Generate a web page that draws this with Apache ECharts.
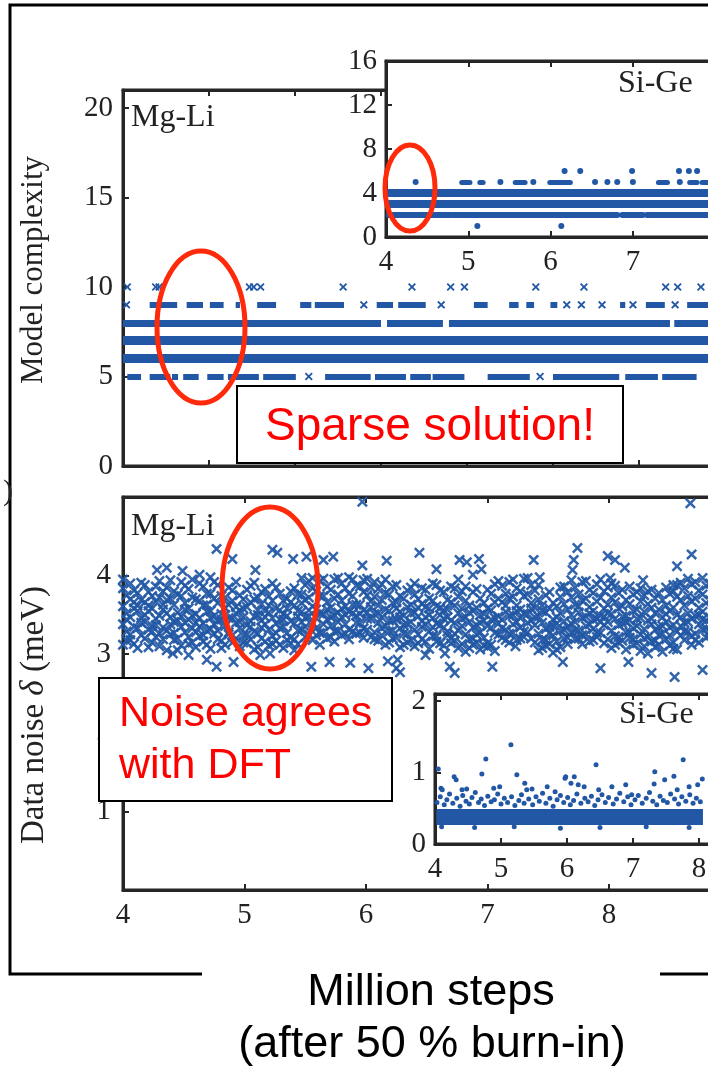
<!DOCTYPE html>
<html style="height: 100%">
<head>
<meta charset="utf-8">
<title>Model complexity and data noise traces</title>
<script src="https://cdn.jsdelivr.net/npm/echarts@6/dist/echarts.min.js"></script>
</head>
<body style="height: 100%; margin: 0; background: #fff">
<div id="target" style="width: 708px; height: 1069px"></div>
<script>
// ---- data (x in million steps) ----

// Mg-Li model complexity: runs [xStart, xEnd] of consecutive samples per level
const mgliLevel5Runs = [[4.05,4.21],[4.31,4.55],[4.57,4.64],[4.70,4.88],[4.98,5.17],[5.22,5.58],[5.63,6.01],[6.35,6.88],[6.93,7.29],[7.34,7.58],[7.60,7.97],[8.24,8.73],[9.00,9.77],[9.84,10.22],[10.27,10.67]];
const mgliLevel6Runs = [[4.0,10.9]];
const mgliLevel7Runs = [[4.0,10.9]];
const mgliLevel8Runs = [[4.0,7.0],[7.07,7.72],[7.79,10.36],[10.41,10.9]];
const mgliLevel9Runs = [[4.31,4.63],[4.74,4.93],[5.01,5.17],[5.31,5.36],[5.56,5.78],[6.06,6.19],[6.23,6.57],[6.95,7.14],[7.20,7.52],[8.08,8.24],[8.49,8.60],[8.69,8.78],[8.97,9.05],[9.78,9.84],[10.08,10.30],[10.56,10.85]];
// isolated samples
const mgliLevel5Single = [6.16, 8.85];
const mgliLevel9Single = [4.04, 6.80, 7.70, 9.16, 9.33, 9.57, 9.93, 10.42];
const mgliLevel10Single = [4.05, 4.38, 4.42, 5.47, 5.52, 5.60, 6.56, 7.36, 7.81, 7.97, 8.80, 9.36, 10.31, 10.45, 10.72];

// Si-Ge model complexity (inset)
const sigeLevel2Runs = [[4.03,4.78],[4.81,6.81],[6.87,7.12],[7.17,8.3]];
const sigeLevel3Runs = [[4.03,8.3]];
const sigeLevel4Runs = [[4.03,8.3]];
const sigeLevel5Runs = [[4.92,5.02],[5.14,5.18],[5.57,5.69],[5.99,6.24],[7.31,7.42],[7.69,7.78],[7.84,7.95]];
const sigeLevel1Single = [5.11, 6.13];
const sigeLevel5Single = [4.36, 5.39, 5.79, 6.54, 6.69, 6.81, 7.00, 7.57];
const sigeLevel6Single = [6.17, 6.36, 6.99, 7.56, 7.68, 7.78];

// Mg-Li data noise (meV): each column is [x, y1, y2, ...]
const mgliNoiseColumns = [
  [4.00,3.12,3.38,3.61,3.84,3.95],[4.06,3.25,3.47,3.70,3.90,3.18],[4.12,3.08,3.33,3.55,3.78,3.62],
  [4.18,3.20,3.41,3.66,3.88,3.50],[4.24,3.15,3.36,3.58,3.74,3.29],[4.30,3.26,3.49,3.72,3.93,3.10],
  [4.36,3.05,3.30,3.52,3.69,3.85],[4.42,3.18,3.41,3.63,3.80,3.27],[4.48,3.11,3.35,3.48,3.74,3.92],
  [4.54,3.22,3.44,3.58,3.83,3.13],[4.60,3.09,3.28,3.51,3.70,3.40],[4.66,3.16,3.39,3.62,3.86,3.24],
  [4.72,3.07,3.32,3.55,3.77,3.46],[4.78,3.19,3.42,3.65,3.88,3.30],[4.84,3.12,3.36,3.50,3.72,3.59],
  [4.90,3.24,3.45,3.68,3.81,3.15],[4.96,3.10,3.33,3.56,3.75,3.41],[5.02,3.14,3.37,3.60,3.82,3.25],
  [5.08,3.06,3.29,3.48,3.70,3.91],[5.14,3.20,3.43,3.64,3.79,3.34],[5.20,3.11,3.31,3.53,3.74,3.62],
  [5.26,3.17,3.39,3.58,3.85,3.27],[5.32,3.08,3.35,3.51,3.68,3.44],[5.38,3.21,3.42,3.66,3.80,3.14],
  [5.44,3.13,3.30,3.55,3.76,3.48],[5.50,3.22,3.46,3.69,3.88,3.35],[5.56,3.18,3.40,3.61,3.84,3.97],
  [5.62,3.27,3.52,3.74,3.93,3.12],[5.68,3.20,3.44,3.66,3.86,3.57],[5.74,3.29,3.50,3.71,3.95,3.16],
  [5.80,3.24,3.47,3.68,3.90,3.58],[5.86,3.31,3.54,3.77,3.98,3.19],[5.92,3.26,3.49,3.63,3.87,3.40],
  [5.98,3.33,3.56,3.79,3.94,3.21],[6.04,3.22,3.45,3.67,3.85,3.60],[6.10,3.17,3.40,3.62,3.83,3.52],
  [6.16,3.12,3.36,3.57,3.78,3.95],[6.22,3.20,3.43,3.65,3.86,3.30],[6.28,3.09,3.33,3.54,3.74,3.47],
  [6.34,3.15,3.38,3.60,3.81,3.26],[6.40,3.10,3.31,3.53,3.76,3.90],[6.46,3.19,3.42,3.64,3.84,3.35],
  [6.52,3.07,3.29,3.50,3.71,3.58],[6.58,3.16,3.39,3.61,3.88,3.23],[6.64,3.11,3.34,3.56,3.79,3.45],
  [6.70,3.20,3.43,3.66,3.86,3.14],[6.76,3.08,3.30,3.52,3.73,3.95],[6.82,3.03,3.25,3.47,3.68,3.86],
  [6.88,3.12,3.34,3.55,3.79,3.20],[6.94,3.06,3.28,3.50,3.71,3.40],[7.00,3.14,3.36,3.58,3.82,3.09],
  [7.06,3.04,3.27,3.46,3.66,3.89],[7.12,3.21,3.44,3.66,3.87,3.33],[7.18,3.26,3.49,3.71,3.92,3.15],
  [7.24,3.18,3.41,3.62,3.84,3.55],[7.30,3.29,3.52,3.74,3.96,3.22],[7.36,3.20,3.43,3.65,3.88,3.58],
  [7.42,3.05,3.26,3.48,3.70,3.88],[7.48,3.11,3.32,3.53,3.75,3.18],[7.54,3.02,3.24,3.44,3.65,3.36],
  [7.60,3.09,3.30,3.52,3.73,3.85],[7.66,3.13,3.35,3.57,3.79,3.21],[7.72,3.19,3.41,3.63,3.85,3.30],
  [7.78,3.24,3.46,3.68,3.92,3.13],[7.84,3.16,3.38,3.60,3.82,3.52],[7.90,3.22,3.45,3.67,3.89,3.27],
  [7.96,3.14,3.37,3.58,3.80,3.48],[8.02,3.08,3.30,3.51,3.72,3.90],[8.08,3.15,3.37,3.58,3.78,3.22],
  [8.14,3.06,3.28,3.49,3.69,3.41],[8.20,3.12,3.33,3.55,3.76,3.19],[8.26,3.04,3.25,3.46,3.67,3.84],
  [8.32,3.01,3.22,3.43,3.64,3.80],[8.38,3.09,3.31,3.52,3.71,3.17],[8.44,3.03,3.26,3.47,3.69,3.36],
  [8.50,3.11,3.34,3.55,3.77,3.24],[8.56,3.06,3.29,3.50,3.73,3.88],[8.62,3.18,3.40,3.62,3.84,3.29],
  [8.68,3.23,3.45,3.67,3.89,3.12],[8.74,3.15,3.38,3.59,3.81,3.50],[8.80,3.21,3.43,3.65,3.87,3.33],
  [8.86,3.17,3.39,3.61,3.83,3.46]
];
const mgliNoiseColumnsB = [
  [4.03,3.29,3.52,3.75,3.44,3.17],[4.09,3.35,3.58,3.81,3.13,3.66],[4.15,3.24,3.46,3.69,3.91,3.40],
  [4.21,3.31,3.55,3.79,3.09,3.62],[4.27,3.22,3.45,3.67,3.86,3.37],[4.33,3.34,3.57,3.80,3.19,3.63],
  [4.39,3.25,3.47,3.71,3.94,3.38],[4.45,3.20,3.53,3.76,3.05,3.43],[4.51,3.28,3.40,3.65,3.87,3.57],
  [4.57,3.15,3.49,3.72,3.33,3.95],[4.63,3.23,3.46,3.68,3.90,3.35],[4.69,3.30,3.54,3.77,3.12,3.63],
  [4.75,3.26,3.49,3.71,3.92,3.38],[4.81,3.17,3.51,3.74,3.08,3.44],[4.87,3.28,3.46,3.63,3.85,3.25],
  [4.93,3.20,3.40,3.60,3.92,3.52],[4.99,3.24,3.47,3.70,3.15,3.58],[5.05,3.19,3.42,3.66,3.87,3.35],
  [5.11,3.26,3.50,3.72,3.09,3.56],[5.17,3.16,3.38,3.55,3.83,3.47],[5.23,3.23,3.46,3.68,3.90,3.13],
  [5.29,3.12,3.33,3.56,3.77,3.44],[5.35,3.27,3.49,3.71,3.58,3.18],[5.41,3.19,3.39,3.62,3.84,3.05],
  [5.47,3.31,3.54,3.76,3.41,3.65],[5.53,3.25,3.48,3.72,3.93,3.56],[5.59,3.33,3.57,3.80,3.24,3.46],
  [5.65,3.28,3.51,3.74,3.96,3.38],[5.71,3.36,3.59,3.82,3.22,3.47],[5.77,3.30,3.53,3.76,3.97,3.41],
  [5.83,3.38,3.61,3.84,3.26,3.50],[5.89,3.29,3.52,3.74,3.95,3.63],[5.95,3.40,3.63,3.86,3.27,3.51],
  [6.01,3.31,3.53,3.75,3.96,3.45],[6.07,3.28,3.51,3.73,3.92,3.19],[6.13,3.24,3.47,3.69,3.89,3.33],
  [6.19,3.29,3.55,3.76,3.15,3.43],[6.25,3.21,3.44,3.66,3.88,3.58],[6.31,3.26,3.49,3.71,3.12,3.37],
  [6.37,3.18,3.41,3.63,3.85,3.52],[6.43,3.25,3.48,3.70,3.14,3.59],[6.49,3.16,3.38,3.60,3.82,3.47],
  [6.55,3.23,3.46,3.68,3.90,3.34],[6.61,3.14,3.37,3.59,3.81,3.50],[6.67,3.24,3.47,3.69,3.29,3.57],
  [6.73,3.17,3.40,3.62,3.84,3.26],[6.79,3.13,3.36,3.58,3.80,3.45],[6.85,3.19,3.41,3.62,3.08,3.53],
  [6.91,3.15,3.37,3.59,3.83,3.25],[6.97,3.21,3.43,3.65,3.11,3.51],[7.03,3.12,3.34,3.56,3.77,3.44],
  [7.09,3.25,3.48,3.71,3.93,3.39],[7.15,3.31,3.54,3.77,3.18,3.62],[7.21,3.27,3.50,3.73,3.95,3.38],
  [7.27,3.34,3.57,3.80,3.20,3.46],[7.33,3.28,3.51,3.76,3.97,3.40],[7.39,3.15,3.37,3.59,3.81,3.47],
  [7.45,3.18,3.40,3.62,3.08,3.55],[7.51,3.13,3.35,3.58,3.79,3.27],[7.57,3.16,3.39,3.61,3.06,3.47],
  [7.63,3.20,3.42,3.64,3.86,3.31],[7.69,3.27,3.50,3.72,3.94,3.39],[7.75,3.30,3.53,3.76,3.20,3.61],
  [7.81,3.25,3.48,3.71,3.93,3.36],[7.87,3.32,3.55,3.78,3.18,3.44],[7.93,3.27,3.49,3.72,3.95,3.41],
  [7.99,3.19,3.41,3.63,3.85,3.52],[8.05,3.23,3.45,3.66,3.87,3.12],[8.11,3.17,3.39,3.61,3.82,3.48],
  [8.17,3.21,3.43,3.64,3.86,3.28],[8.23,3.14,3.36,3.57,3.79,3.45],[8.29,3.10,3.32,3.54,3.75,3.20],
  [8.35,3.16,3.38,3.59,3.82,3.45],[8.41,3.12,3.35,3.57,3.78,3.24],[8.47,3.19,3.41,3.62,3.85,3.51],
  [8.53,3.15,3.37,3.59,3.80,3.07],[8.59,3.24,3.47,3.69,3.91,3.36],[8.65,3.29,3.52,3.74,3.96,3.41],
  [8.71,3.26,3.49,3.71,3.92,3.18],[8.77,3.31,3.54,3.76,3.97,3.44],[8.83,3.24,3.47,3.69,3.90,3.29]
];
const mgliNoiseOutliers = [
  [4.28,4.07],[4.36,4.10],[4.49,4.06],[4.63,4.01],[4.72,3.98],[4.77,4.34],[4.90,4.21],[5.09,4.07],
  [5.23,4.33],[5.27,4.29],[5.40,4.21],[5.47,3.97],[5.51,4.24],[5.65,4.20],[5.73,4.24],[5.97,4.13],
  [5.97,4.94],[6.17,4.19],[6.44,4.29],[6.58,4.08],[6.77,4.20],[6.83,4.17],[6.88,4.01],[6.93,4.21],
  [6.95,4.08],[7.38,4.20],[7.43,3.98],[7.70,4.07],[7.71,4.20],[7.74,4.35],[7.99,4.25],[8.01,3.97],
  [8.05,4.20],[8.13,4.10],[8.28,3.94],[8.53,3.88],[8.56,4.12],[8.67,4.92],[8.68,4.27],
  [4.41,3.01],[4.54,2.99],[4.69,2.93],[4.77,2.84],[4.91,2.90],[5.13,2.99],[5.21,3.01],[5.55,2.84],
  [5.70,2.90],[5.87,2.89],[6.02,2.82],[6.18,2.91],[6.25,2.82],[6.26,2.93],[6.28,2.77],[6.49,2.99],
  [6.65,3.01],[6.69,2.84],[6.73,2.76],[7.04,2.84],[7.23,3.10],[7.62,2.90],[7.93,2.82],[8.16,2.90],
  [8.35,2.76],[8.54,2.71],[8.77,2.80]
];

// Si-Ge data noise (inset): dense core [xStart, xEnd, y] and scattered samples
const sigeNoiseCore = [[4.02,8.06,0.385]];
const sigeNoisePoints = [
  [4.03,0.58],[4.08,0.66],[4.14,0.55],[4.18,0.62],[4.22,0.70],[4.27,0.57],[4.33,0.64],[4.38,0.53],
  [4.42,0.68],[4.47,0.60],[4.52,0.56],[4.56,0.65],[4.61,0.72],[4.66,0.58],[4.70,0.63],[4.75,0.54],
  [4.80,0.67],[4.85,0.59],[4.90,0.62],[4.95,0.70],[5.00,0.56],[5.05,0.64],[5.10,0.58],[5.16,0.66],
  [5.21,0.54],[5.27,0.61],[5.31,0.69],[5.35,0.57],[5.42,0.63],[5.48,0.55],[5.53,0.66],[5.58,0.60],
  [5.63,0.71],[5.68,0.57],[5.74,0.64],[5.79,0.53],[5.85,0.62],[5.90,0.68],[5.95,0.58],[6.01,0.65],
  [6.05,0.55],[6.10,0.61],[6.15,0.70],[6.21,0.57],[6.27,0.64],[6.32,0.59],[6.37,0.67],[6.42,0.54],
  [6.47,0.62],[6.53,0.69],[6.58,0.58],[6.63,0.65],[6.70,0.56],[6.75,0.63],[6.80,0.71],[6.86,0.59],
  [6.92,0.66],[6.97,0.55],[7.03,0.62],[7.08,0.68],[7.14,0.57],[7.20,0.64],[7.25,0.72],[7.30,0.60],
  [7.36,0.55],[7.41,0.67],[7.46,0.61],[7.52,0.58],[7.57,0.70],[7.63,0.63],[7.69,0.56],[7.74,0.66],
  [7.80,0.60],[7.86,0.69],[7.91,0.57],[7.96,0.64],[8.02,0.59],
  [4.10,0.24],[4.60,0.23],[5.20,0.24],[5.90,0.22],[6.50,0.23],[7.20,0.24],[7.85,0.23],
  [4.05,1.05],[4.09,0.78],[4.11,0.76],[4.29,0.94],[4.32,0.90],[4.41,0.76],[4.48,0.77],[4.71,0.98],
  [4.77,1.19],[4.89,0.78],[4.98,0.80],[5.15,1.39],[5.24,0.97],[5.36,0.85],[5.39,0.76],[5.47,0.77],
  [5.70,0.80],[5.82,0.73],[5.97,0.92],[5.98,0.94],[6.06,0.85],[6.11,0.94],[6.17,0.83],[6.26,0.80],
  [6.44,1.11],[6.48,0.76],[6.68,0.80],[6.89,0.83],[6.98,0.69],[7.32,0.84],[7.33,1.01],[7.48,0.90],
  [7.62,0.95],[7.67,0.76],[7.76,1.18],[7.85,0.80],[7.98,0.83],[8.05,0.91]
];

// ---- chart ----
const BLUE = '#2157a4';
const RED_RING = '#ff2a0a';
const INK = '#262626';
const SERIF = '"Liberation Serif", "DejaVu Serif", serif';
const SANS = '"Liberation Sans", Arial, sans-serif';
const X_SYMBOL = 'path://M0,1.6L1.6,0L5,3.4L8.4,0L10,1.6L6.6,5L10,8.4L8.4,10L5,6.6L1.6,10L0,8.4L3.4,5Z';

let chart = echarts.init(document.getElementById('target'));

let runs = (list, level, width) => list.map(r => ({
    coords: [[r[0], level], [r[1], level]],
    lineStyle: { width: width },
}));
let singles = (list, level) => list.map(x => [x, level]);

let mgliRunData = [].concat(
    runs(mgliLevel5Runs, 5, 6),
    runs(mgliLevel6Runs, 6, 9),
    runs(mgliLevel7Runs, 7, 9),
    runs(mgliLevel8Runs, 8, 7),
    runs(mgliLevel9Runs, 9, 6),
);
let mgliSingleData = [].concat(
    singles(mgliLevel5Single, 5),
    singles(mgliLevel9Single, 9),
    singles(mgliLevel10Single, 10),
);
let sigeRunData = [].concat(
    runs(sigeLevel2Runs, 2, 6),
    runs(sigeLevel3Runs, 3, 8),
    runs(sigeLevel4Runs, 4, 8),
    runs(sigeLevel5Runs, 5, 5),
);
let sigeSingleData = [].concat(
    singles(sigeLevel1Single, 1),
    singles(sigeLevel5Single, 5),
    singles(sigeLevel6Single, 6),
);
let mgliNoiseData = [];
mgliNoiseColumns.concat(mgliNoiseColumnsB).forEach(col => {
    col.slice(1).forEach(y => mgliNoiseData.push([col[0], y]));
});
mgliNoiseData = mgliNoiseData.concat(mgliNoiseOutliers);
let sigeCoreData = sigeNoiseCore.map(c => ({ coords: [[c[0], c[2]], [c[1], c[2]]] }));

// axis helpers (MATLAB style box, ticks inside)
let xAx = (grid, min, max, position, showLabel, z) => ({
    gridIndex: grid, type: 'value', min: min, max: max, interval: 1, position: position, z: z || 0,
    axisLine: { show: true, onZero: false, lineStyle: { color: INK, width: 3 } },
    axisTick: { show: true, inside: true, length: 6, lineStyle: { color: INK, width: 2 } },
    axisLabel: { show: showLabel, margin: 11, fontFamily: SERIF, fontSize: 29, color: '#222' },
    splitLine: { show: false },
});
let yAx = (grid, min, max, interval, extra, z) => Object.assign({
    gridIndex: grid, type: 'value', min: min, max: max, interval: interval, z: z || 0,
    axisLine: { show: true, onZero: false, lineStyle: { color: INK, width: 3 } },
    axisTick: { show: true, inside: true, length: 6, lineStyle: { color: INK, width: 2 } },
    axisLabel: { show: true, margin: 10, fontFamily: SERIF, fontSize: 29, color: '#222' },
    splitLine: { show: false },
}, extra);

// grids run past the right edge of the picture, as in the cropped original
let gridBox = { show: true, borderColor: INK, borderWidth: 3, backgroundColor: '#fff', outerBoundsMode: 'none', containLabel: false };

let option = {
    animation: false,
    backgroundColor: '#fff',
    grid: [
        Object.assign({ left: 123, top: 90, width: 688, height: 376 }, gridBox),
        Object.assign({ left: 386, top: 61, width: 411.5, height: 176, z: 3 }, gridBox),
        Object.assign({ left: 123, top: 497, width: 729, height: 393 }, gridBox),
        Object.assign({ left: 435, top: 694, width: 330, height: 150, z: 3 }, gridBox),
    ],
    xAxis: [
        xAx(0, 4, 12, 'bottom', false),
        xAx(0, 4, 12, 'top', false),
        xAx(1, 4, 9, 'bottom', true, 4),
        xAx(1, 4, 9, 'top', false, 4),
        xAx(2, 4, 10, 'bottom', true),
        xAx(2, 4, 10, 'top', false),
        xAx(3, 4, 9, 'bottom', true, 4),
        xAx(3, 4, 9, 'top', false, 4),
    ],
    yAxis: [
        yAx(0, 0, 21, 5, { axisLabel: { showMaxLabel: false, margin: 10, fontFamily: SERIF, fontSize: 29, color: '#222' } }),
        yAx(1, 0, 16, 4, { axisLabel: { margin: 9, fontFamily: SERIF, fontSize: 29, color: '#222' } }, 4),
        yAx(2, 0, 5, 1, { axisLabel: { showMinLabel: false, showMaxLabel: false, margin: 12, fontFamily: SERIF, fontSize: 29, color: '#222' } }),
        yAx(3, 0, 2.1, 1, { axisLabel: { showMaxLabel: false, margin: 9, fontFamily: SERIF, fontSize: 29, color: '#222' } }, 4),
    ],
    series: [
        {
            type: 'lines', coordinateSystem: 'cartesian2d', xAxisIndex: 0, yAxisIndex: 0,
            silent: true, data: mgliRunData,
            lineStyle: { color: BLUE, opacity: 1, cap: 'butt', curveness: 0 },
        },
        {
            type: 'scatter', xAxisIndex: 0, yAxisIndex: 0, silent: true,
            symbol: X_SYMBOL, symbolSize: 8, data: mgliSingleData,
            itemStyle: { color: BLUE, opacity: 1 },
        },
        {
            type: 'lines', coordinateSystem: 'cartesian2d', xAxisIndex: 2, yAxisIndex: 1, z: 5,
            silent: true, data: sigeRunData,
            lineStyle: { color: BLUE, opacity: 1, cap: 'round', curveness: 0 },
        },
        {
            type: 'scatter', xAxisIndex: 2, yAxisIndex: 1, z: 5, silent: true,
            symbol: 'circle', symbolSize: 6, data: sigeSingleData,
            itemStyle: { color: BLUE, opacity: 1 },
        },
        {
            type: 'scatter', xAxisIndex: 4, yAxisIndex: 2, silent: true,
            symbol: X_SYMBOL, symbolSize: 11, data: mgliNoiseData,
            itemStyle: { color: BLUE, opacity: 0.92 },
        },
        {
            type: 'lines', coordinateSystem: 'cartesian2d', xAxisIndex: 6, yAxisIndex: 3, z: 5,
            silent: true, data: sigeCoreData,
            lineStyle: { color: BLUE, opacity: 1, width: 16, cap: 'butt', curveness: 0 },
        },
        {
            type: 'scatter', xAxisIndex: 6, yAxisIndex: 3, z: 5, silent: true,
            symbol: 'circle', symbolSize: 5, data: sigeNoisePoints,
            itemStyle: { color: BLUE, opacity: 1 },
        },
    ],
    graphic: [
        // outer frame
        { type: 'polyline', z: 100, shape: { points: [[202, 974], [10, 974], [10, 5], [708, 5]] },
          style: { stroke: '#000', lineWidth: 3, fill: null } },
        { type: 'line', z: 100, shape: { x1: 660, y1: 974, x2: 708, y2: 974 },
          style: { stroke: '#000', lineWidth: 3 } },
        { type: 'text', z: 100, x: 8, y: 492,
          style: { text: ')', font: '30px ' + SERIF, fill: '#222', textAlign: 'center', textVerticalAlign: 'middle' } },

        // axis titles
        { type: 'text', z: 100, x: 34, y: 270, rotation: Math.PI / 2,
          style: { text: 'Model complexity', font: '31px ' + SERIF, fill: '#222', textAlign: 'center', textVerticalAlign: 'middle' } },
        { type: 'text', z: 100, x: 34, y: 715, rotation: Math.PI / 2,
          style: {
              text: '{n|Data noise }{i|δ}{n| (meV)}', textAlign: 'center', textVerticalAlign: 'middle',
              rich: {
                  n: { font: '33px ' + SERIF, fill: '#222' },
                  i: { font: 'italic 33px ' + SERIF, fill: '#222' },
              },
          } },

        // panel labels
        { type: 'text', z: 100, x: 131, y: 118,
          style: { text: 'Mg-Li', font: '32px ' + SERIF, fill: '#222', textAlign: 'left', textVerticalAlign: 'middle' } },
        { type: 'text', z: 100, x: 131, y: 527,
          style: { text: 'Mg-Li', font: '32px ' + SERIF, fill: '#222', textAlign: 'left', textVerticalAlign: 'middle' } },
        { type: 'text', z: 100, x: 618, y: 84,
          style: { text: 'Si-Ge', font: '32px ' + SERIF, fill: '#222', textAlign: 'left', textVerticalAlign: 'middle' } },
        { type: 'text', z: 100, x: 619, y: 715,
          style: { text: 'Si-Ge', font: '32px ' + SERIF, fill: '#222', textAlign: 'left', textVerticalAlign: 'middle' } },

        // red rings
        { type: 'ellipse', z: 100, shape: { cx: 201, cy: 327, rx: 44, ry: 76 },
          style: { fill: 'rgba(0,0,0,0)', stroke: RED_RING, lineWidth: 5 } },
        { type: 'ellipse', z: 100, shape: { cx: 410, cy: 188, rx: 25, ry: 43 },
          style: { fill: 'rgba(0,0,0,0)', stroke: RED_RING, lineWidth: 5 } },
        { type: 'ellipse', z: 100, shape: { cx: 270, cy: 588, rx: 48, ry: 81 },
          style: { fill: 'rgba(0,0,0,0)', stroke: RED_RING, lineWidth: 5 } },

        // callout boxes
        { type: 'rect', z: 100, shape: { x: 237, y: 386, width: 386, height: 77 },
          style: { fill: '#fff', stroke: '#000', lineWidth: 2 } },
        { type: 'text', z: 101, x: 430, y: 427,
          style: { text: 'Sparse solution!', font: '46px ' + SANS, fill: '#ff0000', textAlign: 'center', textVerticalAlign: 'middle' } },
        { type: 'rect', z: 100, shape: { x: 99, y: 678, width: 293, height: 123 },
          style: { fill: '#fff', stroke: '#000', lineWidth: 2 } },
        { type: 'text', z: 101, x: 119, y: 714,
          style: { text: 'Noise agrees', font: '43px ' + SANS, fill: '#ff0000', textAlign: 'left', textVerticalAlign: 'middle' } },
        { type: 'text', z: 101, x: 119, y: 766,
          style: { text: 'with DFT', font: '43px ' + SANS, fill: '#ff0000', textAlign: 'left', textVerticalAlign: 'middle' } },

        // caption
        { type: 'text', z: 100, x: 431, y: 993,
          style: { text: 'Million steps', font: '45px ' + SANS, fill: '#000', textAlign: 'center', textVerticalAlign: 'middle' } },
        { type: 'text', z: 100, x: 432, y: 1045,
          style: { text: '(after 50 % burn-in)', font: '45px ' + SANS, fill: '#000', textAlign: 'center', textVerticalAlign: 'middle' } },
    ],
};

chart.setOption(option);
</script>
</body>
</html>
